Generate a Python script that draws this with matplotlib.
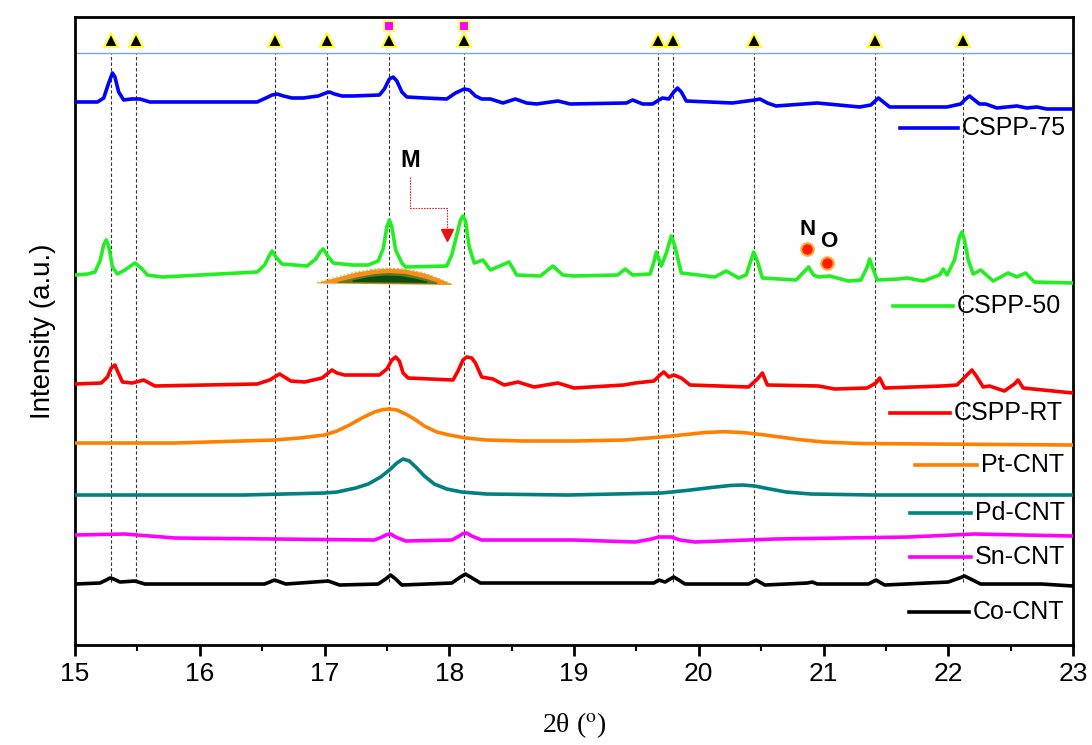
import numpy as np
from matplotlib import pyplot as plt

# traced spectra: 2theta and intensity (a.u., curves already stacked)
cspp75_x = [15.00, 15.18, 15.23, 15.27, 15.30, 15.32, 15.35, 15.39, 15.45, 15.52, 15.60, 16.46, 16.53, 16.58,
            16.62, 16.67, 16.74, 16.83, 16.95, 17.01, 17.04, 17.08, 17.14, 17.23, 17.44, 17.48, 17.52, 17.55,
            17.58, 17.62, 17.66, 17.80, 17.98, 18.05, 18.12, 18.16, 18.21, 18.26, 18.33, 18.43, 18.53, 18.62,
            18.70, 18.87, 18.97, 19.42, 19.47, 19.55, 19.63, 19.68, 19.71, 19.76, 19.80, 19.83, 19.86, 19.90,
            20.27, 20.45, 20.49, 20.55, 20.62, 20.95, 21.29, 21.38, 21.44, 21.48, 21.53, 21.99, 22.10, 22.14,
            22.17, 22.20, 22.25, 22.30, 22.39, 22.55, 22.63, 22.71, 22.79, 23.00]
cspp75_y = [543, 543, 547, 562, 572, 568, 553, 545, 546, 546, 543, 543, 547, 550,
            551, 549, 547, 547, 549, 552, 553, 551, 549, 549, 550, 556, 566, 568,
            564, 553, 548, 547, 546, 552, 556, 555, 549, 546, 546, 542, 546, 542,
            541, 544, 541, 542, 545, 541, 541, 545, 547, 546, 553, 557, 553, 544,
            542, 545, 546, 542, 539, 542, 538, 540, 547, 543, 538, 538, 541, 546,
            549, 546, 541, 541, 537, 539, 537, 538, 536, 536]

cspp50_x = [15.00, 15.10, 15.16, 15.20, 15.23, 15.25, 15.27, 15.30, 15.34, 15.40, 15.48, 15.53, 15.58, 15.70,
            16.46, 16.52, 16.56, 16.58, 16.61, 16.66, 16.86, 16.93, 16.97, 16.99, 17.02, 17.07, 17.22, 17.35,
            17.43, 17.47, 17.50, 17.52, 17.54, 17.57, 17.62, 17.65, 17.98, 18.02, 18.06, 18.09, 18.11, 18.13,
            18.16, 18.20, 18.27, 18.33, 18.48, 18.54, 18.73, 18.83, 18.91, 19.00, 19.35, 19.41, 19.47, 19.61,
            19.64, 19.66, 19.70, 19.74, 19.78, 19.81, 19.86, 20.13, 20.22, 20.32, 20.38, 20.42, 20.44, 20.47,
            20.51, 20.78, 20.85, 20.88, 20.92, 20.96, 21.05, 21.20, 21.30, 21.35, 21.37, 21.40, 21.43, 21.60,
            21.67, 21.80, 21.93, 21.96, 21.99, 22.05, 22.09, 22.11, 22.13, 22.16, 22.20, 22.26, 22.36, 22.48,
            22.55, 22.62, 22.69, 23.00]
cspp50_y = [370, 371, 373, 384, 400, 405, 399, 378, 371, 375, 382, 377, 370, 368,
            373, 380, 390, 394, 388, 381, 379, 386, 394, 396, 390, 382, 380, 380,
            384, 396, 418, 425, 418, 395, 382, 378, 379, 390, 410, 425, 429, 424,
            398, 382, 385, 375, 383, 370, 369, 379, 370, 369, 370, 376, 370, 371,
            383, 393, 379, 392, 409, 398, 372, 368, 374, 367, 370, 385, 393, 384,
            367, 365, 374, 378, 370, 368, 369, 364, 365, 378, 386, 375, 365, 366,
            367, 364, 370, 376, 370, 385, 408, 413, 405, 385, 371, 375, 364, 372,
            368, 372, 363, 362]

cspprt_x = [15.00, 15.21, 15.26, 15.29, 15.32, 15.34, 15.38, 15.46, 15.55, 15.64, 16.46, 16.56, 16.64, 16.73,
            16.84, 16.98, 17.03, 17.06, 17.10, 17.16, 17.44, 17.50, 17.54, 17.57, 17.60, 17.63, 17.67, 18.03,
            18.07, 18.11, 18.14, 18.18, 18.21, 18.26, 18.35, 18.44, 18.55, 18.68, 18.87, 19.00, 19.40, 19.49,
            19.64, 19.69, 19.72, 19.76, 19.80, 19.86, 19.93, 20.40, 20.47, 20.51, 20.55, 20.96, 21.09, 21.35,
            21.42, 21.45, 21.49, 21.95, 22.07, 22.15, 22.19, 22.23, 22.28, 22.33, 22.45, 22.53, 22.56, 22.60,
            23.00]
cspprt_y = [261, 262, 268, 277, 280, 274, 263, 262, 265, 259, 261, 265, 271, 264,
            263, 267, 272, 275, 272, 270, 270, 276, 285, 288, 284, 272, 267, 265,
            274, 285, 288, 287, 282, 268, 266, 260, 263, 258, 262, 257, 260, 262,
            264, 270, 273, 268, 270, 267, 260, 258, 266, 272, 260, 259, 256, 257,
            262, 267, 257, 259, 260, 270, 275, 268, 258, 259, 254, 261, 265, 257,
            252]

pt_x = [15.00, 15.80, 16.60, 16.80, 17.00, 17.10, 17.20, 17.30, 17.40, 17.47, 17.52, 17.58, 17.65, 17.72,
        17.80, 17.90, 18.00, 18.13, 18.30, 18.60, 19.00, 19.40, 19.70, 19.90, 20.05, 20.20, 20.35, 20.50,
        20.65, 20.80, 21.00, 21.30, 23.00]
pt_y = [202, 202, 205, 207, 210, 214, 220, 227, 233, 235.5, 236, 235, 231, 226,
        219, 213, 210, 207, 205, 204, 204, 205, 208, 210.5, 212.5, 213.3, 212.5, 210.5,
        208, 205.5, 203, 201.5, 200]

pd_x = [15.00, 16.35, 17.00, 17.10, 17.25, 17.35, 17.45, 17.52, 17.58, 17.63, 17.68, 17.74, 17.80, 17.88,
        17.98, 18.10, 18.30, 18.95, 19.70, 19.90, 20.10, 20.25, 20.35, 20.45, 20.55, 20.70, 20.90, 21.41,
        23.00]
pd_y = [150, 150, 152, 153, 157, 161, 168, 175, 182, 186, 184, 177, 169, 161,
        156, 153, 151, 150, 152, 154.5, 157.5, 159.5, 160, 159, 156.5, 153, 151, 150,
        150]

sn_x = [15.00, 15.40, 15.80, 16.60, 17.40, 17.46, 17.50, 17.53, 17.57, 17.65, 18.02, 18.08, 18.11, 18.14,
        18.18, 18.26, 19.00, 19.49, 19.62, 19.68, 19.78, 19.85, 19.97, 20.61, 21.68, 22.21, 23.00]
sn_y = [110, 111, 107, 106, 105, 108, 110.5, 111, 108, 104, 105, 109, 111.5, 112,
        109, 105, 105, 103, 106, 108, 108, 105, 103, 106, 108, 111, 109]

co_x = [15.00, 15.20, 15.25, 15.28, 15.31, 15.36, 15.48, 15.56, 16.52, 16.60, 16.69, 17.03, 17.12, 17.43,
        17.49, 17.53, 17.57, 17.62, 18.02, 18.09, 18.13, 18.17, 18.25, 19.64, 19.68, 19.73, 19.77, 19.80,
        19.84, 19.89, 20.40, 20.46, 20.53, 20.87, 20.91, 20.95, 21.36, 21.42, 21.49, 22.00, 22.09, 22.13,
        22.18, 22.26, 22.75, 23.00]
co_y = [61, 62, 65, 67, 66, 63, 64, 61, 61, 65, 61, 64, 60, 61,
        66, 70, 66, 60, 62, 68, 71, 68, 62, 62, 65, 63, 66, 68,
        65, 61, 61, 65, 60, 62, 63, 61, 61, 65, 60, 63, 67, 69,
        66, 61, 61, 59]

labels = ["CSPP-75", "CSPP-50", "CSPP-RT", "Pt-CNT", "Pd-CNT", "Sn-CNT", "Co-CNT"]
colors = ["#0000ff", "#22ee22", "#ff0000", "#ff8000", "#008080", "#ff00ff", "#000000"]

# reference peak positions (triangles) and the two square markers
ref_peaks = [15.29, 15.49, 16.60, 17.02, 17.52, 18.12, 19.67, 19.79, 20.44, 21.41, 22.12]
square_peaks = [17.52, 18.12]

plt.rcParams['font.family'] = ['Liberation Sans', 'DejaVu Sans']
plt.rcParams['mathtext.fontset'] = 'stix'

fig = plt.figure(figsize=(10.92, 7.45), dpi=100)
ax = fig.add_axes([0.0687, 0.1342, 0.9139, 0.843])

series = [(cspp75_x, cspp75_y), (cspp50_x, cspp50_y), (cspprt_x, cspprt_y), (pt_x, pt_y),
          (pd_x, pd_y), (sn_x, sn_y), (co_x, co_y)]
for (x, y), c in zip(series, colors):
    ax.plot(x, y, color=c, lw=2.6, solid_joinstyle='round', solid_capstyle='round', zorder=3)

# dashed guides + markers on top
ax.vlines(ref_peaks, 63, 592, colors='#333333', linestyles=(0, (3, 2)), lw=0.8, zorder=1)
ax.axhline(592, color='#7aa6d6', lw=1.0, zorder=2)
ax.plot(ref_peaks, [605] * len(ref_peaks), ls='none', marker='^', ms=10, mfc='black',
        mec='#ffff33', mew=1.5, zorder=4)
ax.plot(square_peaks, [619] * len(square_peaks), ls='none', marker='s', ms=7, mfc='#ff00ff',
        mec='#ffff66', mew=1.5, zorder=4)

# green/orange hump under CSPP-50
lens_x = [16.94, 17.10, 17.25, 17.40, 17.51, 17.65, 17.80, 17.92, 18.02]
lens_top = [362.5, 368, 373, 376, 377, 376, 372, 366.5, 361]
lens_base = [362, 361.8, 361.6, 361.4, 361.2, 361.0, 360.8, 360.6, 360.5]
ax.fill_between(lens_x, lens_base, lens_top, color='#ff8c1a', lw=0, zorder=2)
mid_x = [17.10, 17.25, 17.40, 17.51, 17.65, 17.80, 17.90]
mid_top = [363.5, 368, 371.5, 372.5, 371.5, 367, 363]
mid_base = [362.6, 362.4, 362.2, 362.0, 361.8, 361.6, 361.4]
ax.fill_between(mid_x, mid_base, mid_top, color='#5a7d1e', lw=0, zorder=2)
core_x = [17.22, 17.35, 17.48, 17.60, 17.72, 17.82]
core_top = [365, 368.5, 370, 369.5, 367, 364]
core_base = [363.6, 363.4, 363.2, 363.0, 362.8, 362.6]
ax.fill_between(core_x, core_base, core_top, color='#0d4d12', lw=0, zorder=2)
ax.plot(lens_x, lens_top, color='#88dd66', lw=0.8, ls=(0, (2, 1.5)), zorder=2)

# M arrow
ax.text(17.69, 484, "M", fontsize=17, fontweight='bold', ha='center', va='center')
ax.plot([17.685, 17.685, 17.98, 17.98], [468, 437, 437, 412], color='#ee2222', lw=0.8,
        ls=(0, (1.5, 1)), zorder=3)
ax.plot([17.98], [410], marker='v', ms=8, color='#ee1111', zorder=3)

# N and O markers
ax.plot([20.87], [396], marker='o', ms=9, mfc='#ff1a00', mec='#ffaa33', mew=1.5, zorder=4)
ax.plot([21.03], [382], marker='o', ms=9, mfc='#ff1a00', mec='#ffaa33', mew=1.5, zorder=4)
ax.text(20.87, 415, "N", fontsize=16, fontweight='bold', ha='center', va='center')
ax.text(21.04, 403, "O", fontsize=16, fontweight='bold', ha='center', va='center')

# legend entries placed beside each curve
legend_pos = [(0.827, 0.885, 0.823), (0.820, 0.880, 0.540), (0.817, 0.877, 0.369),
              (0.842, 0.904, 0.287), (0.837, 0.898, 0.210), (0.837, 0.898, 0.140),
              (0.836, 0.896, 0.0525)]
for (x0, x1, y), lab, c in zip(legend_pos, labels, colors):
    ax.plot([x0, x1], [y, y], color=c, lw=2.6, transform=ax.transAxes)
    ax.text(x1 + 0.004, y, lab, fontsize=18, ha='left', va='center', transform=ax.transAxes)

ax.set_xlim(15, 23)
ax.set_ylim(0, 628)
ax.set_xticks(range(15, 24))
ax.set_xticks(np.arange(15.5, 23, 1.0), minor=True)
ax.set_yticks([])
ax.tick_params(axis='x', which='major', length=8, width=2, labelsize=19, pad=4)
ax.tick_params(axis='x', which='minor', length=4, width=1.5)
for s in ax.spines.values():
    s.set_linewidth(2)

ax.set_xlabel("2θ ($^{\\rm o}$)", fontsize=20, family=['Liberation Serif', 'DejaVu Serif'], labelpad=18)
ax.set_ylabel("Intensity (a.u.)", fontsize=20, labelpad=14)

fig.savefig("out.png", dpi=100)
